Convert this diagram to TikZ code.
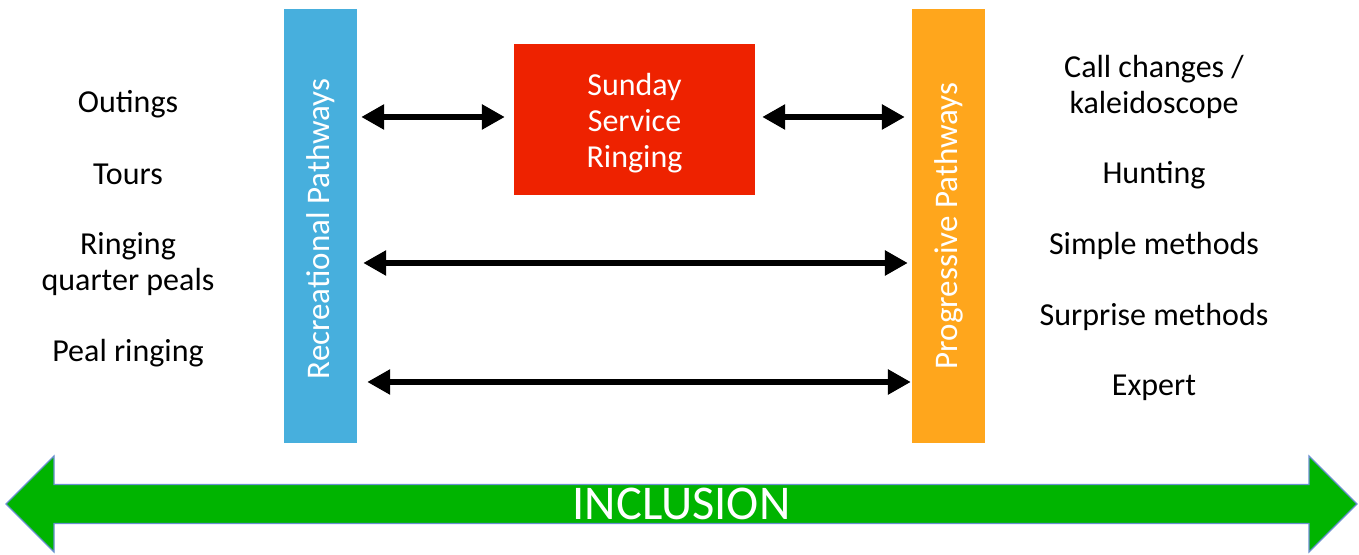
\documentclass[tikz,border=0pt]{standalone}
\usepackage{fontspec}
\setmainfont{Carlito}
\usetikzlibrary{arrows.meta,shapes.arrows}
\definecolor{recblue}{HTML}{47AFDD}
\definecolor{progorange}{HTML}{FFA61C}
\definecolor{sunred}{HTML}{EE2200}
\definecolor{incgreen}{HTML}{00B400}
\definecolor{incedge}{HTML}{6A8FD0}
\begin{document}
\begin{tikzpicture}[x=1pt,y=1pt,>={Triangle[length=23pt,width=24pt]},
	bar/.style={fill=#1,minimum width=73pt,minimum height=434pt,inner sep=0pt},
	lbl/.style={align=center,font=\fontsize{32}{36}\selectfont},
	bartxt/.style={rotate=90,text=white,font=\fontsize{33}{36}\selectfont},
	link/.style={<->,line width=6.5pt}]
	\useasboundingbox (0,0) rectangle (1359,554);
	% the two pathway bars and the box between them
	\node[bar=recblue] (rec) at (320.5,328) {};
	\node[bar=progorange] (prog) at (948.5,328) {};
	\node[bartxt] (rectxt) at (320.5,325) {Recreational Pathways};
	\node[bartxt] (progtxt) at (prog) {Progressive Pathways};
	\node[fill=sunred,minimum width=241pt,minimum height=151pt,inner sep=0pt,lbl,text=white] (sun) at (634.5,434.5) {};
	\node[lbl,text=white] (suntxt) at (634.5,431) {Sunday\\Service\\Ringing};
	% links
	\draw[link,shorten <=4pt,shorten >=9pt] (rec.east |- 0,437) -- (sun.west |- 0,437);
	\draw[link,shorten <=7pt,shorten >=7pt] (sun.east |- 0,437) -- (prog.west |- 0,437);
	\draw[link,shorten <=6pt,shorten >=4pt] (rec.east |- 0,291) -- (prog.west |- 0,291);
	\draw[link,shorten <=10pt,shorten >=1pt] (rec.east |- 0,172) -- (prog.west |- 0,172);
	% left column
	\node[lbl] (out) at (128,450) {Outings};
	\node[lbl] (tour) at (128,380) {Tours};
	\node[lbl] (quart) at (128,290) {Ringing\\quarter peals};
	\node[lbl] (peal) at (128,201) {Peal ringing};
	% right column
	\node[lbl] (call) at (1154,467.5) {Call changes /\\kaleidoscope};
	\node[lbl] (hunt) at (1154,379) {Hunting};
	\node[lbl] (simp) at (1154,308) {Simple methods};
	\node[lbl] (surp) at (1154,237) {Surprise methods};
	\node[lbl] (exp) at (1154,166) {Expert};
	% inclusion arrow
	\node[double arrow,double arrow head extend=24pt,minimum height=1351pt,minimum width=96pt,inner sep=0pt,
		fill=incgreen,draw=incedge,line width=1.2pt,text=white,font=\fontsize{48.5}{58}\selectfont] (incl) at (681.5,50) {INCLUSION};
\end{tikzpicture}
\end{document}
